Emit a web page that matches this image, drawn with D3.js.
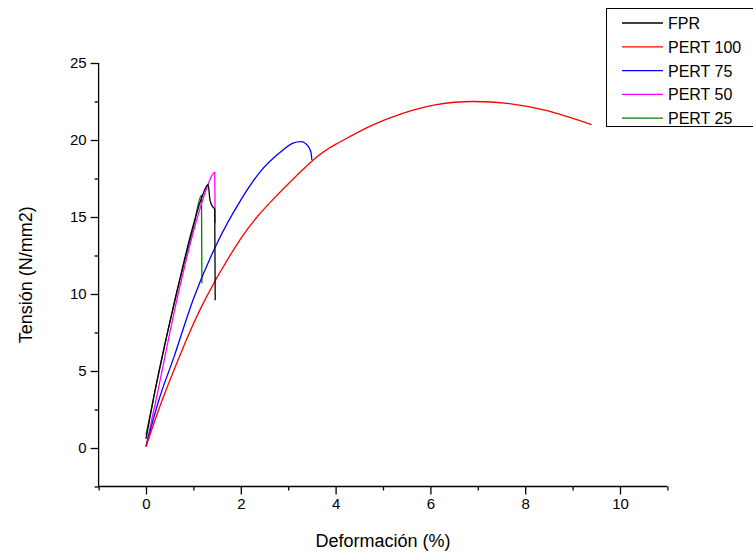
<!DOCTYPE html>
<html>
<head>
<meta charset="utf-8">
<script src="https://cdn.jsdelivr.net/npm/d3@7"></script>
<style>
  body { margin: 0; background: #fff; }
  text { font-family: "Liberation Sans", Arial, sans-serif; }
</style>
</head>
<body>
<div id="vis"></div>
<script>

var width = 753;
var height = 556;

// series: [deformacion %, tension N/mm2]
var fpr = [[0, 0.6], [0.15, 3.1], [0.61, 9.6], [1.0, 14.5], [1.18, 16.3], [1.31, 17.1],
           [1.35, 16.1], [1.40, 15.7], [1.45, 15.5], [1.46, 9.6]];
var pert100 = [[0, 0.1], [0.34, 3.1], [0.7, 5.9], [1.24, 9.6], [2.0, 13.6], [2.62, 15.95],
               [3.51, 18.65], [4.02, 19.75], [4.73, 20.9], [5.43, 21.75], [6.13, 22.3], [6.9, 22.5],
               [7.7, 22.35], [8.46, 21.9], [9.4, 21.0]];
var pert75 = [[0, 0.1], [0.27, 3.1], [0.6, 6.0], [0.99, 9.6], [1.5, 13.3], [1.98, 16.0],
              [2.4, 17.9], [2.83, 19.2], [3.1, 19.8], [3.27, 19.9], [3.42, 19.6], [3.48, 19.2],
              [3.5, 18.7]];
var pert50 = [[0, 0.1], [0.21, 3.1], [0.65, 9.6], [1.05, 14.6], [1.25, 16.6], [1.45, 17.9],
              [1.46, 14.6]];
var pert25 = [[0, 0.85], [0.15, 3.1], [0.61, 9.6], [1.0, 14.3], [1.17, 16.4], [1.18, 10.7]];

var seriesNames = ['FPR', 'PERT 100', 'PERT 75', 'PERT 50', 'PERT 25'];
var seriesColors = ['#000000', '#ff0000', '#0000ff', '#ff00ff', '#008000'];
var seriesData = [fpr, pert100, pert75, pert50, pert25];

var xMajor = [0, 2, 4, 6, 8, 10];
var xMinor = [-1, 1, 3, 5, 7, 9, 11];
var yMajor = [0, 5, 10, 15, 20, 25];
var yMinor = [-2.5, 2.5, 7.5, 12.5, 17.5, 22.5];

var x = d3.scaleLinear().domain([-1, 11]).range([98.6, 667.4]);
var y = d3.scaleLinear().domain([-2.5, 25]).range([486.5, 63]);

var svg = d3.select('#vis').append('svg')
    .attr('width', width)
    .attr('height', height);

// axes
var xAxis = svg.append('g')
    .attr('transform', 'translate(0,' + y.range()[0] + ')')
    .call(d3.axisBottom(x).tickValues(xMajor).tickSize(8).tickPadding(4).tickFormat(d3.format('d')));
xAxis.append('g')
    .call(d3.axisBottom(x).tickValues(xMinor).tickSize(4).tickFormat(''))
    .select('.domain').remove();

var yAxis = svg.append('g')
    .attr('transform', 'translate(' + x.range()[0] + ',0)')
    .call(d3.axisLeft(y).tickValues(yMajor).tickSize(8).tickPadding(4).tickFormat(d3.format('d')));
yAxis.append('g')
    .call(d3.axisLeft(y).tickValues(yMinor).tickSize(4).tickFormat(''))
    .select('.domain').remove();

svg.selectAll('.domain').attr('stroke', '#000').attr('stroke-width', 1.3);
svg.selectAll('.tick line').attr('stroke', '#000').attr('stroke-width', 1.3);
svg.selectAll('.tick text')
    .attr('font-size', 15)
    .attr('fill', '#000')
    .attr('font-family', '"Liberation Sans", Arial, sans-serif');

// make the axis lines end exactly at the domain (no outer ticks)
xAxis.select('.domain').attr('d', 'M' + x.range()[0] + ',0H' + x.range()[1]);
yAxis.select('.domain').attr('d', 'M0,' + y.range()[0] + 'V' + y.range()[1]);

svg.append('text')
    .attr('x', (x.range()[0] + x.range()[1]) / 2)
    .attr('y', 547)
    .attr('text-anchor', 'middle')
    .attr('font-size', 18)
    .text('Deformación (%)');

svg.append('text')
    .attr('transform', 'translate(32,' + (y.range()[0] + y.range()[1]) / 2 + ') rotate(-90)')
    .attr('text-anchor', 'middle')
    .attr('font-size', 18)
    .text('Tensión (N/mm2)');

// curves: the long red one is smooth, the others break sharply
function lineFor(i) {
    return d3.line()
        .x(function (d) { return x(d[0]); })
        .y(function (d) { return y(d[1]); })
        .curve(i === 1 ? d3.curveNatural : d3.curveMonotoneX);
}

var order = [4, 3, 2, 1, 0];
order.forEach(function (i) {
    svg.append('path')
        .datum(seriesData[i])
        .attr('fill', 'none')
        .attr('stroke', seriesColors[i])
        .attr('stroke-width', 1.3)
        .attr('d', lineFor(i));
});

// legend
var legend = svg.append('g');
legend.append('rect')
    .attr('x', 606.5).attr('y', 8.5)
    .attr('width', 160).attr('height', 118)
    .attr('fill', '#fff')
    .attr('stroke', '#000')
    .attr('stroke-width', 1);

var items = legend.selectAll('.item')
    .data(seriesNames)
    .enter().append('g')
    .attr('class', 'item')
    .attr('transform', function (d, i) { return 'translate(0,' + (23 + i * 23.8) + ')'; });

items.append('line')
    .attr('x1', 622).attr('x2', 663)
    .attr('y1', 0).attr('y2', 0)
    .attr('stroke', function (d, i) { return seriesColors[i]; })
    .attr('stroke-width', 1.3);

items.append('text')
    .attr('x', 668)
    .attr('y', 6)
    .attr('font-size', 16)
    .text(function (d) { return d; });

</script>
</body>
</html>
